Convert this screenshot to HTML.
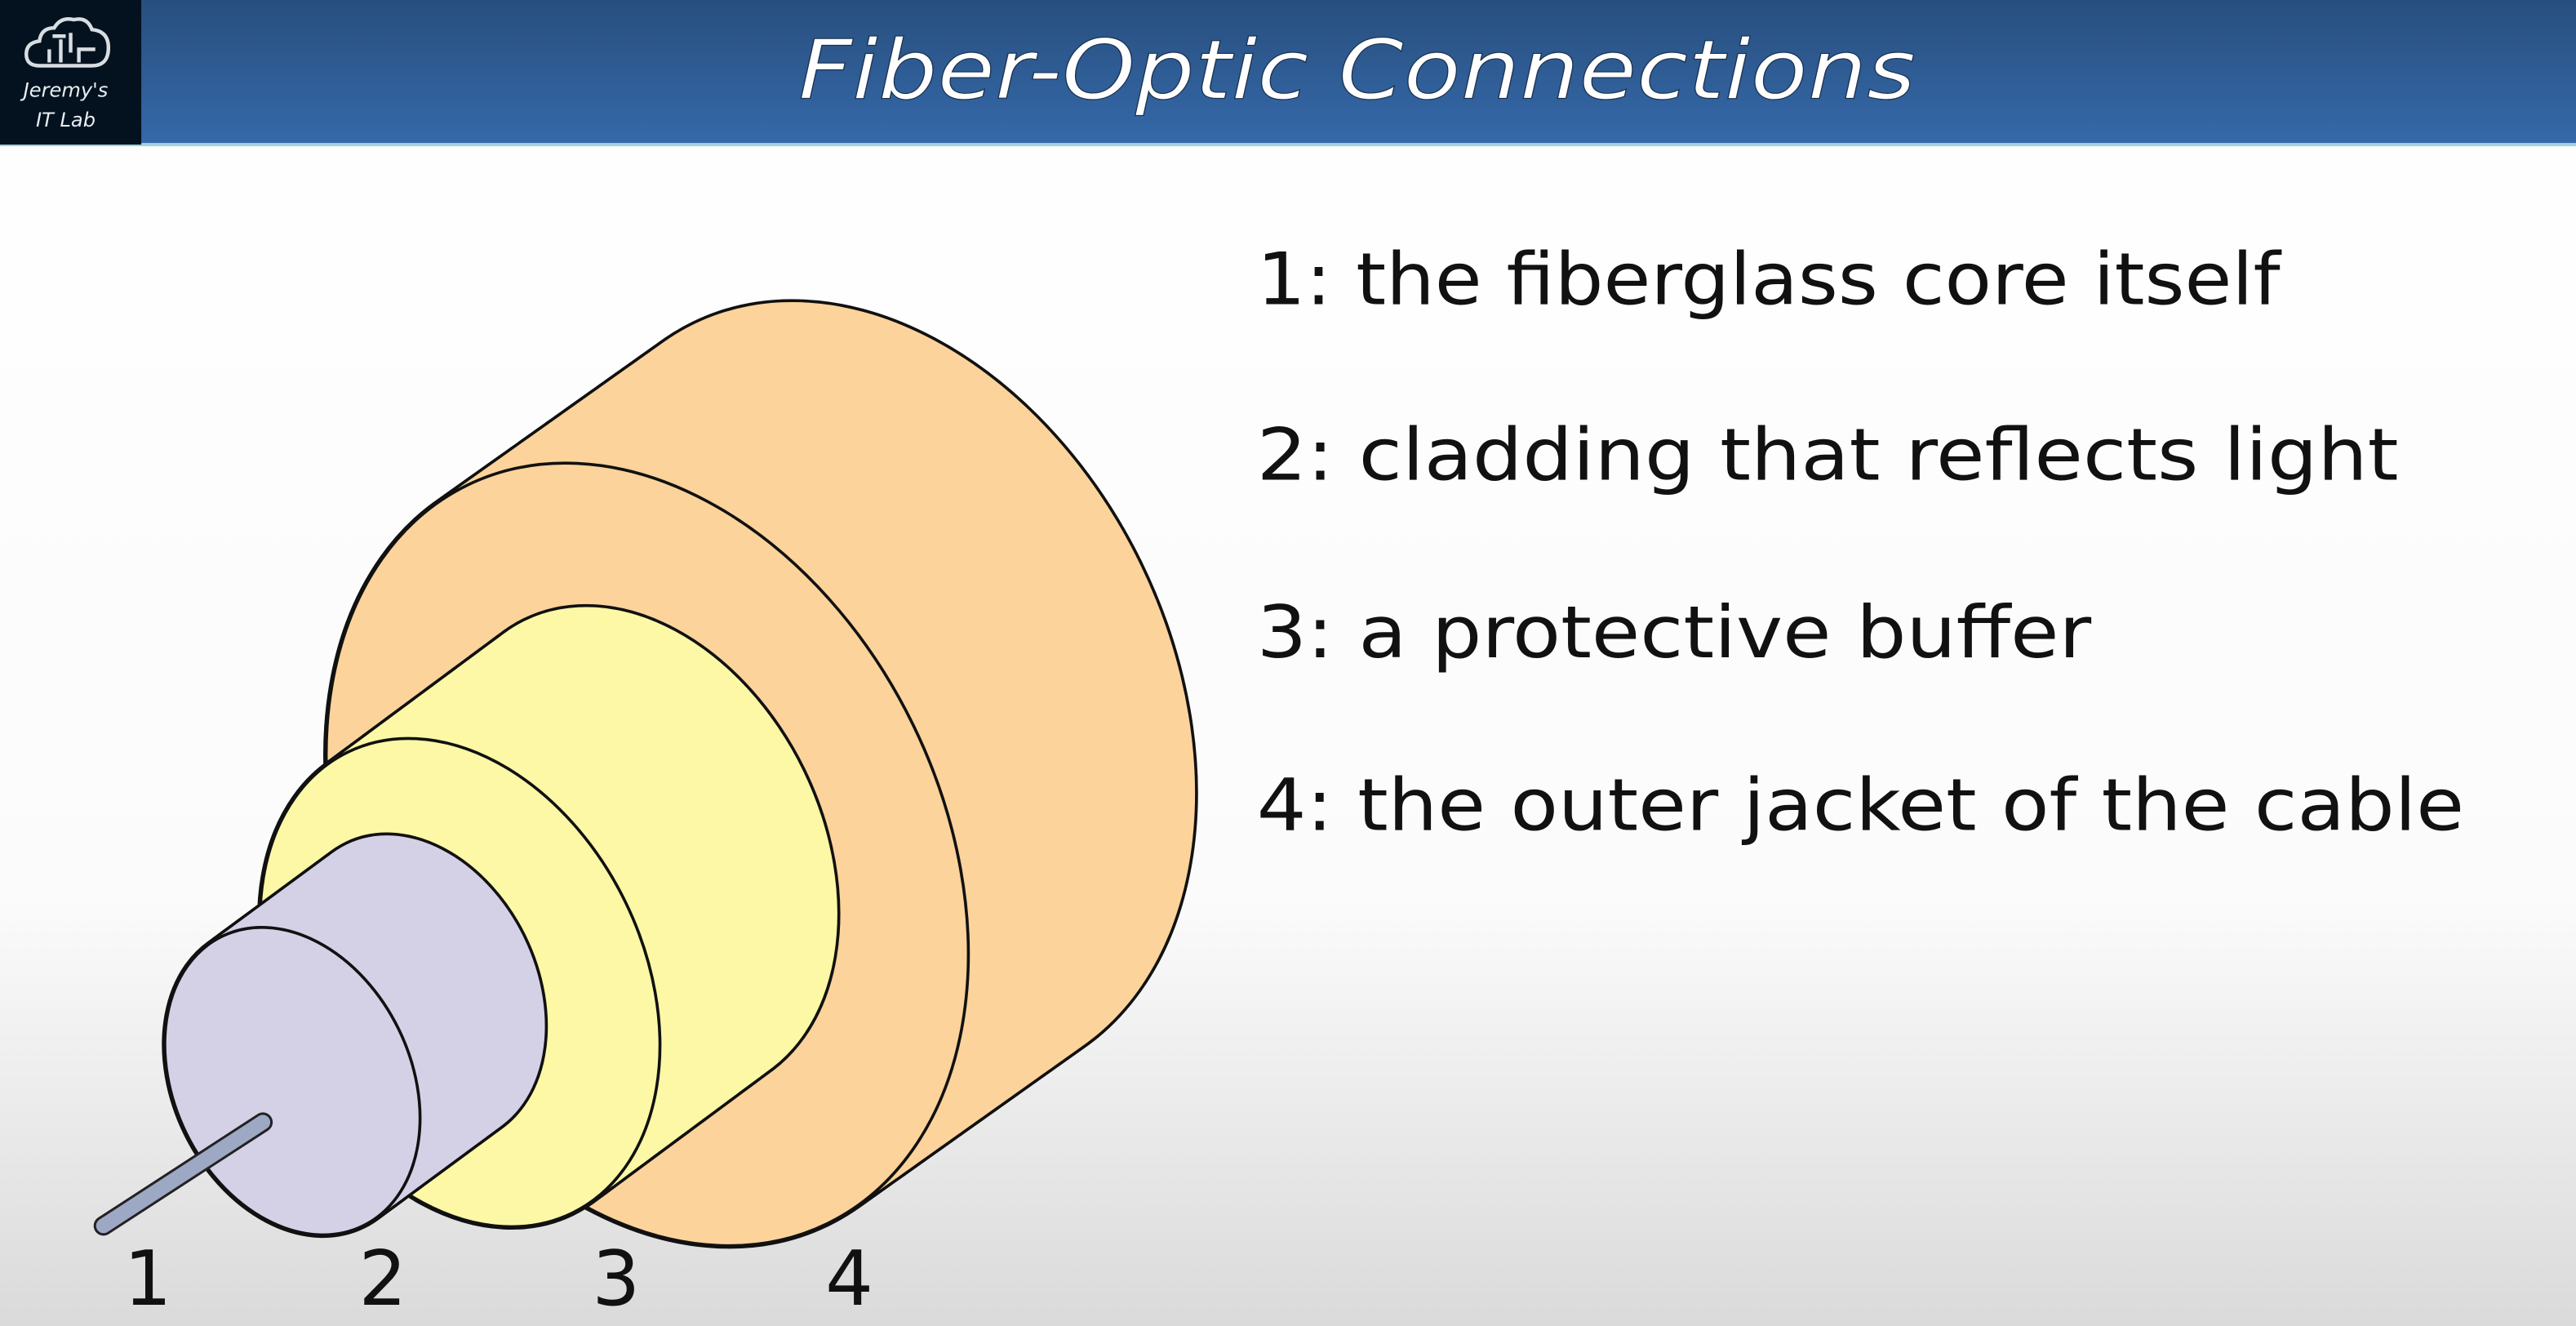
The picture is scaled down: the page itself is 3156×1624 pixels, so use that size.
<!DOCTYPE html>
<html><head><meta charset="utf-8"><style>
html,body{margin:0;padding:0;width:3156px;height:1624px;overflow:hidden;background:#fff}
svg{display:block}
</style></head><body>
<svg id="s" width="3156" height="1624" viewBox="0 0 1568 807" preserveAspectRatio="none" xmlns="http://www.w3.org/2000/svg">
<defs>
<linearGradient id="hdr" x1="0" y1="0" x2="0" y2="1"><stop offset="0" stop-color="#284f7e"/><stop offset="1" stop-color="#3569aa"/></linearGradient>
<linearGradient id="bg" x1="0" y1="0" x2="0" y2="1"><stop offset="0" stop-color="#ffffff"/><stop offset="0.68" stop-color="#fbfbfb"/><stop offset="1" stop-color="#dadada"/></linearGradient>
</defs>
<rect x="0" y="0" width="1568" height="807" fill="url(#bg)"/>
<rect x="0" y="0" width="1568" height="88" fill="url(#hdr)"/>
<rect x="0" y="87" width="1568" height="2" fill="#9fd4e0"/>
<rect x="0" y="0" width="86" height="88" fill="#04121f"/>
<g fill="none" stroke="#d8dde2" stroke-width="2.2">
<path d="M24 40 Q16 40 16 33 Q16 26 24 25 Q25 17 33 17 Q37 10 45 12 Q53 10 56 18 Q66 19 66 29 Q66 40 56 40 Z"/>
<path d="M30 38 V30 M37 38 V24 M43 32 V20 M48 38 V30 L58 30 M32 22 L40 22"/>
</g>
<text x="40" y="59" text-anchor="middle" font-family="DejaVu Sans, sans-serif" font-style="italic" font-size="12" fill="#e8eef2">Jeremy's</text>
<text x="40" y="77" text-anchor="middle" font-family="DejaVu Sans, sans-serif" font-style="italic" font-size="12" fill="#e8eef2">IT Lab</text>
<text x="826" y="60" text-anchor="middle" font-family="DejaVu Sans, sans-serif" font-style="italic" font-size="50" fill="#ffffff" stroke="#1c3350" stroke-width="0.6" textLength="680" lengthAdjust="spacingAndGlyphs">Fiber-Optic Connections</text>

<g id="diagram"></g>

<g font-family="DejaVu Sans, sans-serif" font-size="44" fill="#111">
<text x="765" y="185" textLength="623" lengthAdjust="spacingAndGlyphs">1: the fiberglass core itself</text>
<text x="765" y="292" textLength="695" lengthAdjust="spacingAndGlyphs">2: cladding that reflects light</text>
<text x="765" y="400" textLength="508" lengthAdjust="spacingAndGlyphs">3: a protective buffer</text>
<text x="765" y="505" textLength="735" lengthAdjust="spacingAndGlyphs">4: the outer jacket of the cable</text>
</g>
<g font-family="DejaVu Sans, sans-serif" font-size="46" fill="#111" text-anchor="middle">
<text x="90" y="794">1</text>
<text x="233" y="794">2</text>
<text x="375" y="794">3</text>
<text x="517" y="794">4</text>
</g>
</svg>
<script>
const NS='http://www.w3.org/2000/svg';
const g=document.getElementById('diagram');
const ANG=64;
const layers=[
 {name:'outer-jacket',cx:394,cy:520,a:250,b:180,dx:138,dy:-98,fill:'#fcd39b'},
 {name:'buffer',cx:280,cy:598,a:156,b:112,dx:108,dy:-80,fill:'#fcf8a6'},
 {name:'cladding',cx:178,cy:658,a:98,b:72,dx:76,dy:-56,fill:'#d4d1e7'}
];
function ell(cx,cy,a,b,fill,stroke,sw,nm){
 const e=document.createElementNS(NS,'ellipse');
 e.setAttribute('cx',cx);e.setAttribute('cy',cy);e.setAttribute('rx',a);e.setAttribute('ry',b);
 e.setAttribute('transform','rotate('+ANG+' '+cx+' '+cy+')');
 e.setAttribute('fill',fill);e.setAttribute('stroke',stroke);e.setAttribute('stroke-width',sw);
 
 
 g.appendChild(e);return e;
}
layers.forEach(L=>{
 const N=40;
 for(let i=0;i<=N;i++){const t=i/N;ell(L.cx+L.dx*(1-t),L.cy+L.dy*(1-t),L.a,L.b,L.fill,'#111',3.6,L.name+'-outline');}
 for(let i=0;i<=N;i++){const t=i/N;ell(L.cx+L.dx*(1-t),L.cy+L.dy*(1-t),L.a,L.b,L.fill,'none',0,L.name+'-body');}
 ell(L.cx,L.cy,L.a,L.b,L.fill,'#111',1.8,L.name+'-front-face');
});
const rod=document.createElementNS(NS,'line');
rod.setAttribute('x1',160);rod.setAttribute('y1',683);rod.setAttribute('x2',63);rod.setAttribute('y2',746);
rod.setAttribute('stroke','#222');rod.setAttribute('stroke-width',12);rod.setAttribute('stroke-linecap','round');


g.appendChild(rod);
const rod2=document.createElementNS(NS,'line');
rod2.setAttribute('x1',160);rod2.setAttribute('y1',683);rod2.setAttribute('x2',63);rod2.setAttribute('y2',746);
rod2.setAttribute('stroke','#9ca8c4');rod2.setAttribute('stroke-width',9);rod2.setAttribute('stroke-linecap','round');


g.appendChild(rod2);
</script>
</body></html>
